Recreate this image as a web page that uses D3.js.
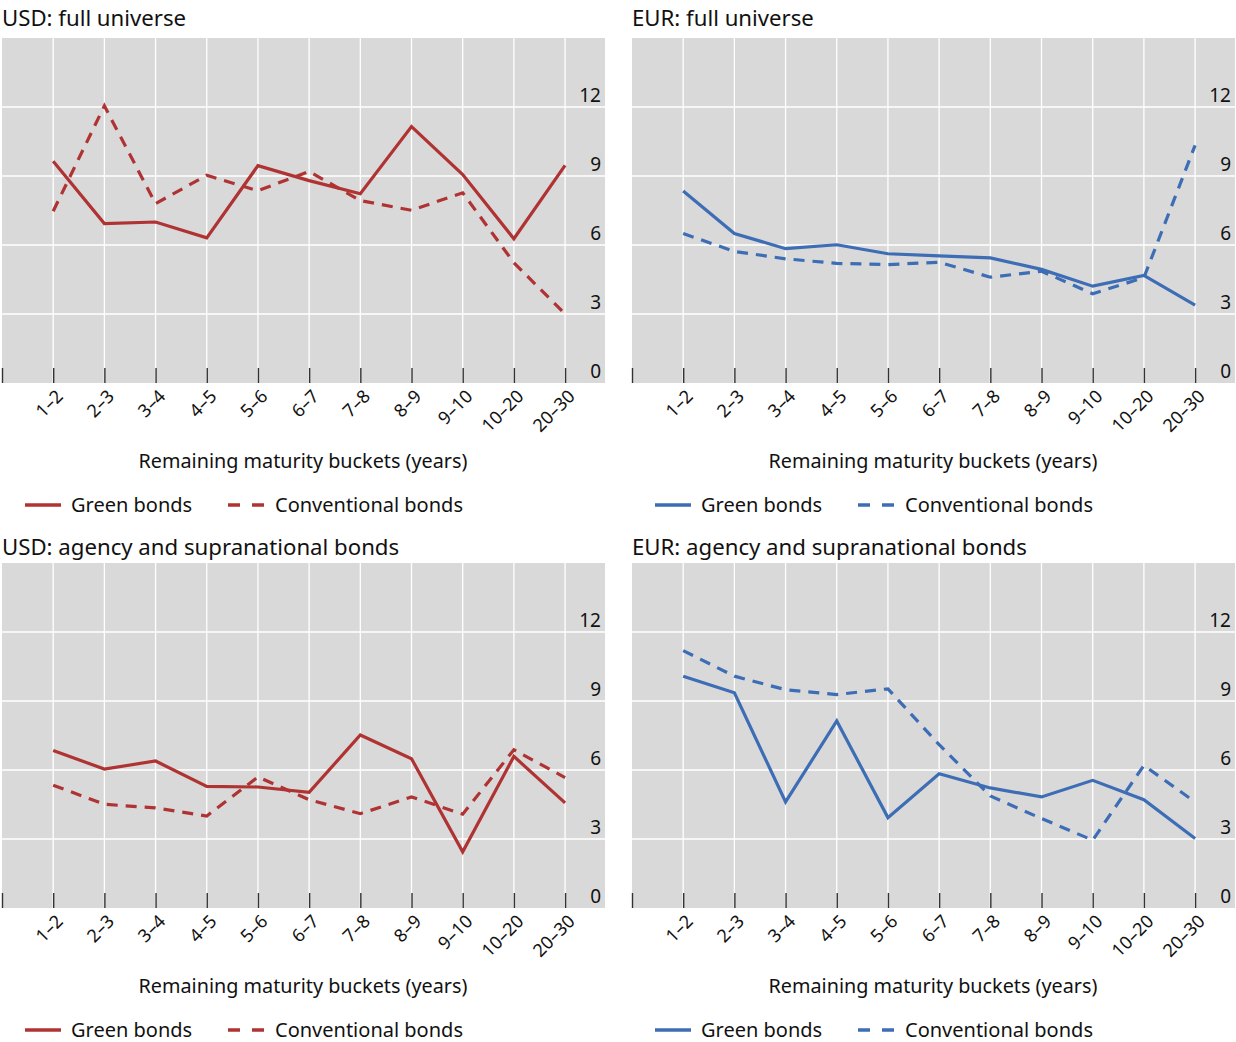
<!DOCTYPE html>
<html>
<head>
<meta charset="utf-8">
<script src="https://cdn.jsdelivr.net/npm/d3@7"></script>
<style>
  body { margin: 0; background: #fff; }
  svg { display: block; font-family: "Noto Sans", "Open Sans", sans-serif; }
</style>
</head>
<body>
<svg id="chart" width="1236" height="1042"></svg>
<script>
const categories = ["1–2","2–3","3–4","4–5","5–6","6–7","7–8","8–9","9–10","10–20","20–30"];
const yTicks = [0, 3, 6, 9, 12];

const titles = ["USD: full universe", "EUR: full universe",
                "USD: agency and supranational bonds", "EUR: agency and supranational bonds"];

const usdFullGreen = [9.64, 6.93, 7.0, 6.31, 9.45, 8.8, 8.23, 11.15, 9.06, 6.27, 9.46];
const usdFullConv  = [7.47, 12.05, 7.8, 9.03, 8.36, 9.2, 7.93, 7.51, 8.27, 5.23, 3.0];
const eurFullGreen = [8.35, 6.5, 5.84, 6.01, 5.62, 5.53, 5.44, 4.94, 4.21, 4.68, 3.39];
const eurFullConv  = [6.5, 5.72, 5.4, 5.2, 5.15, 5.25, 4.6, 4.86, 3.88, 4.58, 10.33];
const usdAgGreen   = [6.85, 6.04, 6.39, 5.29, 5.26, 5.03, 7.52, 6.49, 2.44, 6.59, 4.57];
const usdAgConv    = [5.34, 4.51, 4.35, 4.0, 5.7, 4.71, 4.1, 4.83, 4.08, 6.88, 5.67];
const eurAgGreen   = [10.08, 9.36, 4.61, 8.13, 3.93, 5.84, 5.22, 4.83, 5.55, 4.71, 3.02];
const eurAgConv    = [11.19, 10.08, 9.49, 9.28, 9.53, 7.1, 4.87, 3.89, 2.95, 6.2, 4.61];

const seriesNames = ["Green bonds", "Conventional bonds"];
const xTitle = "Remaining maturity buckets (years)";

const RED = "#b03333", BLUE = "#3d6db5";
const panels = [
  {title: titles[0], green: usdFullGreen, conv: usdFullConv, color: RED,  left: 2,   top: 38,  ty: -12},
  {title: titles[1], green: eurFullGreen, conv: eurFullConv, color: BLUE, left: 632, top: 38,  ty: -12},
  {title: titles[2], green: usdAgGreen,   conv: usdAgConv,   color: RED,  left: 2,   top: 563, ty: -8},
  {title: titles[3], green: eurAgGreen,   conv: eurAgConv,   color: BLUE, left: 632, top: 563, ty: -8}
];

const W = 603, H = 345;
const svg = d3.select("#chart");

panels.forEach(p => {
  const g = svg.append("g").attr("transform", `translate(${p.left},${p.top})`);
  const x = d3.scaleLinear().domain([-1, 10.78]).range([0, W]);
  const y = d3.scaleLinear().domain([0, 15]).range([H, 0]);

  // title
  g.append("text").attr("x", 0).attr("y", p.ty)
    .attr("font-size", 22.2).attr("fill", "#111").text(p.title);

  // background
  g.append("rect").attr("width", W).attr("height", H).attr("fill", "#d9d9d9");

  // vertical gridlines
  g.append("g").selectAll("line").data(d3.range(0, categories.length)).join("line")
    .attr("x1", d => x(d)).attr("x2", d => x(d)).attr("y1", 0).attr("y2", H)
    .attr("stroke", "#fff").attr("stroke-width", 1.3);
  // horizontal gridlines
  g.append("g").selectAll("line").data(yTicks.filter(v => v > 0)).join("line")
    .attr("x1", 0).attr("x2", W).attr("y1", d => y(d)).attr("y2", d => y(d))
    .attr("stroke", "#fff").attr("stroke-width", 1.3);

  // x axis ticks (inside, upward) and rotated labels
  const xAxis = d3.axisBottom(x).tickValues(d3.range(-1, categories.length))
    .tickSize(-15).tickFormat(i => i < 0 ? "" : categories[i]);
  const xa = g.append("g").attr("transform", `translate(0,${H})`).call(xAxis);
  xa.select(".domain").remove();
  xa.selectAll(".tick line").attr("stroke", "#333").attr("stroke-width", 1.4);
  xa.selectAll(".tick text")
    .attr("font-family", "Noto Sans, Open Sans, sans-serif")
    .attr("font-size", 18).attr("fill", "#111")
    .attr("text-anchor", "end").attr("y", 0).attr("dy", "0.35em")
    .attr("transform", "translate(6,10) rotate(-45)");

  // y axis labels inside the plot on right
  const yAxis = d3.axisLeft(y).tickValues(yTicks).tickSize(0).tickPadding(3);
  const ya = g.append("g").attr("transform", `translate(${W - 1},0)`).call(yAxis);
  ya.select(".domain").remove();
  ya.selectAll(".tick text")
    .attr("font-family", "Noto Sans, Open Sans, sans-serif")
    .attr("font-size", 19).attr("fill", "#111").attr("dy", "-0.3em");

  // lines
  const line = d3.line().x((d, i) => x(i)).y(d => y(d));
  g.append("path").datum(p.conv).attr("d", line).attr("fill", "none")
    .attr("stroke", p.color).attr("stroke-width", 3.2).attr("stroke-dasharray", "11,8");
  g.append("path").datum(p.green).attr("d", line).attr("fill", "none")
    .attr("stroke", p.color).attr("stroke-width", 3.2).attr("stroke-linejoin", "miter");

  // x title
  g.append("text").attr("x", 301).attr("y", H + 85).attr("text-anchor", "middle")
    .attr("font-size", 19.8).attr("fill", "#111").text(xTitle);

  // legend
  const ly = H + 122;
  const leg = g.append("g").attr("transform", `translate(0,${ly})`);
  leg.append("line").attr("x1", 23).attr("x2", 59).attr("y1", 0).attr("y2", 0)
    .attr("stroke", p.color).attr("stroke-width", 3.5);
  leg.append("text").attr("x", 69).attr("y", 0).attr("dy", "0.35em")
    .attr("font-size", 20).attr("fill", "#111").text(seriesNames[0]);
  leg.append("line").attr("x1", 226).attr("x2", 262).attr("y1", 0).attr("y2", 0)
    .attr("stroke", p.color).attr("stroke-width", 3.5).attr("stroke-dasharray", "12,12");
  leg.append("text").attr("x", 273).attr("y", 0).attr("dy", "0.35em")
    .attr("font-size", 20).attr("fill", "#111").text(seriesNames[1]);
});
</script>
</body>
</html>
